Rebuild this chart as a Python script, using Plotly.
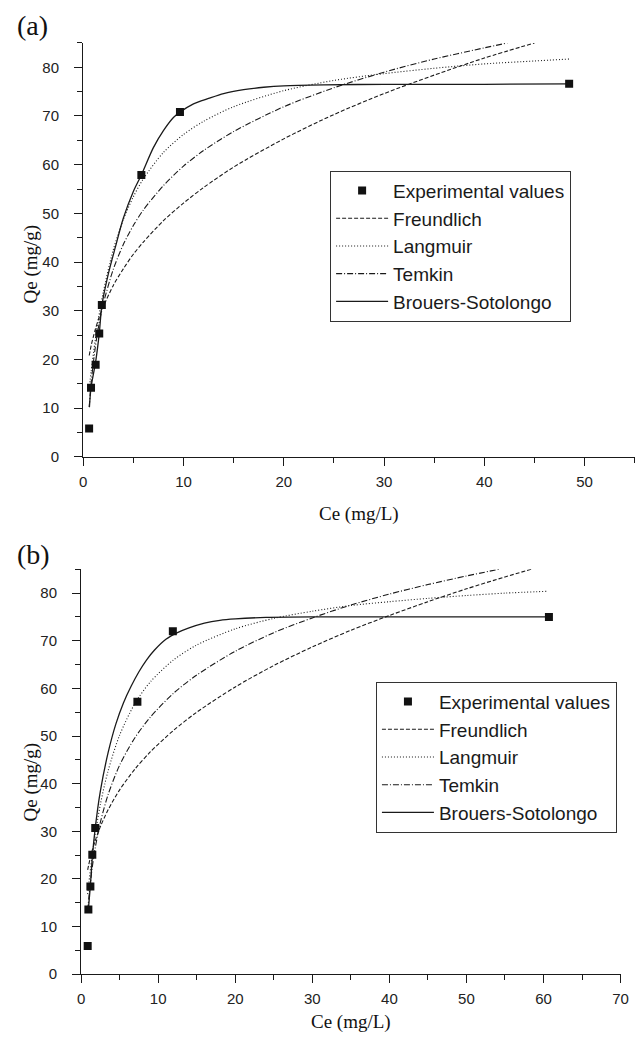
import plotly.graph_objects as go

# ---------------- Panel (a) ----------------
exp_a_x = [0.59, 0.78, 1.24, 1.60, 1.86, 5.80, 9.65, 48.46]
exp_a_y = [5.8, 14.2, 18.9, 25.3, 31.2, 57.9, 70.8, 76.6]

fr_a_x = [0.6, 0.8, 1.2, 1.6, 2.0, 3, 4, 5, 6, 8, 10, 12, 15, 20, 25, 30, 35, 40, 45]
fr_a_y = [20.8, 22.9, 26.1, 28.7, 30.8, 35.2, 38.6, 41.6, 44.1, 48.5, 52.1, 55.3, 59.5, 65.3, 70.3, 74.6, 78.4, 81.9, 85.0]

la_a_x = [0.6, 0.8, 1.2, 1.6, 2.0, 3, 4, 5, 6, 8, 10, 12, 15, 20, 25, 30, 35, 40, 45, 48.5]
la_a_y = [14.0, 17.6, 24.0, 29.3, 33.8, 42.5, 48.7, 53.4, 57.1, 62.5, 66.2, 68.9, 71.9, 75.2, 77.3, 78.7, 79.8, 80.7, 81.3, 81.7]

te_a_x = [0.6, 0.8, 1.2, 1.6, 2.0, 3, 4, 5, 6, 8, 10, 12, 15, 20, 25, 30, 35, 40, 42.3]
te_a_y = [10.2, 15.3, 22.4, 27.5, 31.4, 38.5, 43.6, 47.5, 50.7, 55.7, 59.7, 62.9, 66.8, 71.9, 75.8, 79.0, 81.7, 84.0, 85.0]

bs_a_x = [0.62, 0.78, 1.24, 1.6, 1.86, 2.5, 3.2, 4.0, 5.0, 5.8, 7.0, 8.0, 9.0, 9.65, 11, 12.5, 14, 16, 18, 20, 24, 30, 40, 48.46]
bs_a_y = [10.2, 14.2, 19.5, 25.3, 31.0, 37.5, 43.0, 49.0, 54.5, 57.9, 63.5, 67.0, 69.7, 70.8, 72.5, 73.6, 74.6, 75.4, 75.9, 76.2, 76.4, 76.5, 76.5, 76.6]

# ---------------- Panel (b) ----------------
exp_b_x = [0.85, 0.94, 1.2, 1.45, 1.83, 7.3, 11.9, 60.7]
exp_b_y = [5.9, 13.6, 18.4, 25.1, 30.7, 57.2, 72.0, 75.0]

fr_b_x = [0.85, 1.0, 1.4, 1.8, 2.5, 3.5, 5, 7, 9, 12, 15, 20, 25, 30, 35, 40, 45, 50, 55, 58.4]
fr_b_y = [21.9, 23.1, 25.8, 27.9, 31.0, 34.5, 38.7, 43.1, 46.7, 51.2, 55.0, 60.3, 64.8, 68.7, 72.2, 75.3, 78.2, 80.9, 83.4, 85.0]

la_b_x = [0.85, 1.0, 1.4, 1.8, 2.5, 3.5, 5, 7, 9, 12, 15, 20, 25, 30, 35, 40, 45, 50, 55, 60.6]
la_b_y = [16.8, 19.1, 24.5, 29.1, 35.7, 42.7, 50.2, 56.9, 61.4, 66.0, 69.1, 72.5, 74.7, 76.2, 77.4, 78.2, 78.9, 79.5, 80.0, 80.4]

te_b_x = [0.85, 1.0, 1.4, 1.8, 2.5, 3.5, 5, 7, 9, 12, 15, 20, 25, 30, 35, 40, 45, 50, 54.2]
te_b_y = [13.3, 16.1, 21.9, 26.3, 31.9, 37.7, 43.9, 49.7, 54.0, 59.0, 62.8, 67.8, 71.7, 74.8, 77.5, 79.8, 81.8, 83.6, 85.0]

bs_b_x = [0.94, 1.2, 1.45, 1.83, 2.5, 3.5, 4.5, 5.5, 6.5, 7.5, 8.5, 9.5, 11, 12.5, 14, 16, 18, 20, 24, 30, 40, 50, 60.7]
bs_b_y = [13.6, 18.6, 24.5, 30.7, 38.5, 46.5, 52.5, 57.0, 60.5, 63.5, 66.0, 68.0, 70.3, 71.7, 72.7, 73.7, 74.3, 74.6, 74.9, 75.0, 75.0, 75.0, 75.0]

names = ["Experimental values", "Freundlich", "Langmuir", "Temkin", "Brouers-Sotolongo"]
dashes = [None, "4px,2px", "1px,2px", "6px,2px,1px,2px", "solid"]

W, H = 644, 1045
LINE = "#1a1a1a"
SANS = "Liberation Sans, Arial, sans-serif"
SERIF = "Liberation Serif, Times New Roman, serif"

fig = go.Figure()

panels = [
    ("x", "y", "legend", exp_a_x, exp_a_y, [(fr_a_x, fr_a_y), (la_a_x, la_a_y), (te_a_x, te_a_y), (bs_a_x, bs_a_y)]),
    ("x2", "y2", "legend2", exp_b_x, exp_b_y, [(fr_b_x, fr_b_y), (la_b_x, la_b_y), (te_b_x, te_b_y), (bs_b_x, bs_b_y)]),
]

for xa, ya, leg, ex, ey, curves in panels:
    for i, (cx, cy) in enumerate(curves):
        fig.add_trace(go.Scatter(
            x=cx, y=cy, mode="lines", name=names[i + 1],
            line=dict(color=LINE, width=1.1 if i < 3 else 1.3, dash=dashes[i + 1], shape="spline", smoothing=0.8),
            xaxis=xa, yaxis=ya, legend=leg, legendrank=i + 2,
        ))
    fig.add_trace(go.Scatter(
        x=ex, y=ey, mode="markers", name=names[0],
        marker=dict(symbol="square", size=8, color="#111111"),
        xaxis=xa, yaxis=ya, legend=leg, legendrank=1,
    ))

# pixel-based domains
def px_x(p):
    return p / W

def px_y(p):
    return 1 - p / H

def axis_common(standoff):
    return dict(
        showline=True, linecolor=LINE, linewidth=1.3, mirror=False,
        ticks="outside", ticklen=8, tickwidth=1.2, tickcolor=LINE,
        showgrid=False, zeroline=False, ticklabelstandoff=standoff,
        tickfont=dict(family=SANS, size=15, color="#222"),
        minor=dict(dtick=5, ticks="outside", ticklen=5, tickwidth=1.2, tickcolor=LINE, showgrid=False),
    )

legend_common = dict(
    xanchor="left", yanchor="top",
    bordercolor="#333", borderwidth=1, bgcolor="white",
    font=dict(family=SANS, size=19, color="#1a1a1a"),
    itemwidth=52, tracegroupgap=0,
)

fig.update_layout(
    width=W, height=H,
    margin=dict(l=0, r=0, t=0, b=0),
    paper_bgcolor="white", plot_bgcolor="white",
    showlegend=True,
    xaxis=dict(domain=[px_x(80.7), px_x(642.7)], range=[0, 55], dtick=10, anchor="y", **axis_common(3)),
    yaxis=dict(domain=[px_y(460.3), px_y(43.3)], range=[0, 85], dtick=10, anchor="x", **axis_common(12)),
    xaxis2=dict(domain=[px_x(78.6), px_x(628.3)], range=[0, 70], dtick=10, anchor="y2", **axis_common(3)),
    yaxis2=dict(domain=[px_y(981.7), px_y(573.7)], range=[0, 85], dtick=10, anchor="x2", **axis_common(12)),
    legend=dict(x=px_x(332.3), y=px_y(172), **legend_common),
    legend2=dict(x=px_x(379), y=px_y(687), **legend_common),
)

ann = [
    dict(text="(a)", x=px_x(11), y=px_y(26), xanchor="left", yanchor="middle", font=dict(family=SERIF, size=28, color="#111")),
    dict(text="(b)", x=px_x(11), y=px_y(559), xanchor="left", yanchor="middle", font=dict(family=SERIF, size=28, color="#111")),
    dict(text="Qe (mg/g)", x=px_x(27), y=px_y(266), textangle=-90, xanchor="center", yanchor="middle", font=dict(family=SERIF, size=19, color="#111")),
    dict(text="Qe (mg/g)", x=px_x(27), y=px_y(788), textangle=-90, xanchor="center", yanchor="middle", font=dict(family=SERIF, size=19, color="#111")),
    dict(text="Ce (mg/L)", x=px_x(362), y=px_y(518), xanchor="center", yanchor="middle", font=dict(family=SERIF, size=19, color="#111")),
    dict(text="Ce (mg/L)", x=px_x(354), y=px_y(1030), xanchor="center", yanchor="middle", font=dict(family=SERIF, size=19, color="#111")),
]
for a in ann:
    a.update(xref="paper", yref="paper", showarrow=False)
fig.update_layout(annotations=ann)

fig.write_html("out.html")
